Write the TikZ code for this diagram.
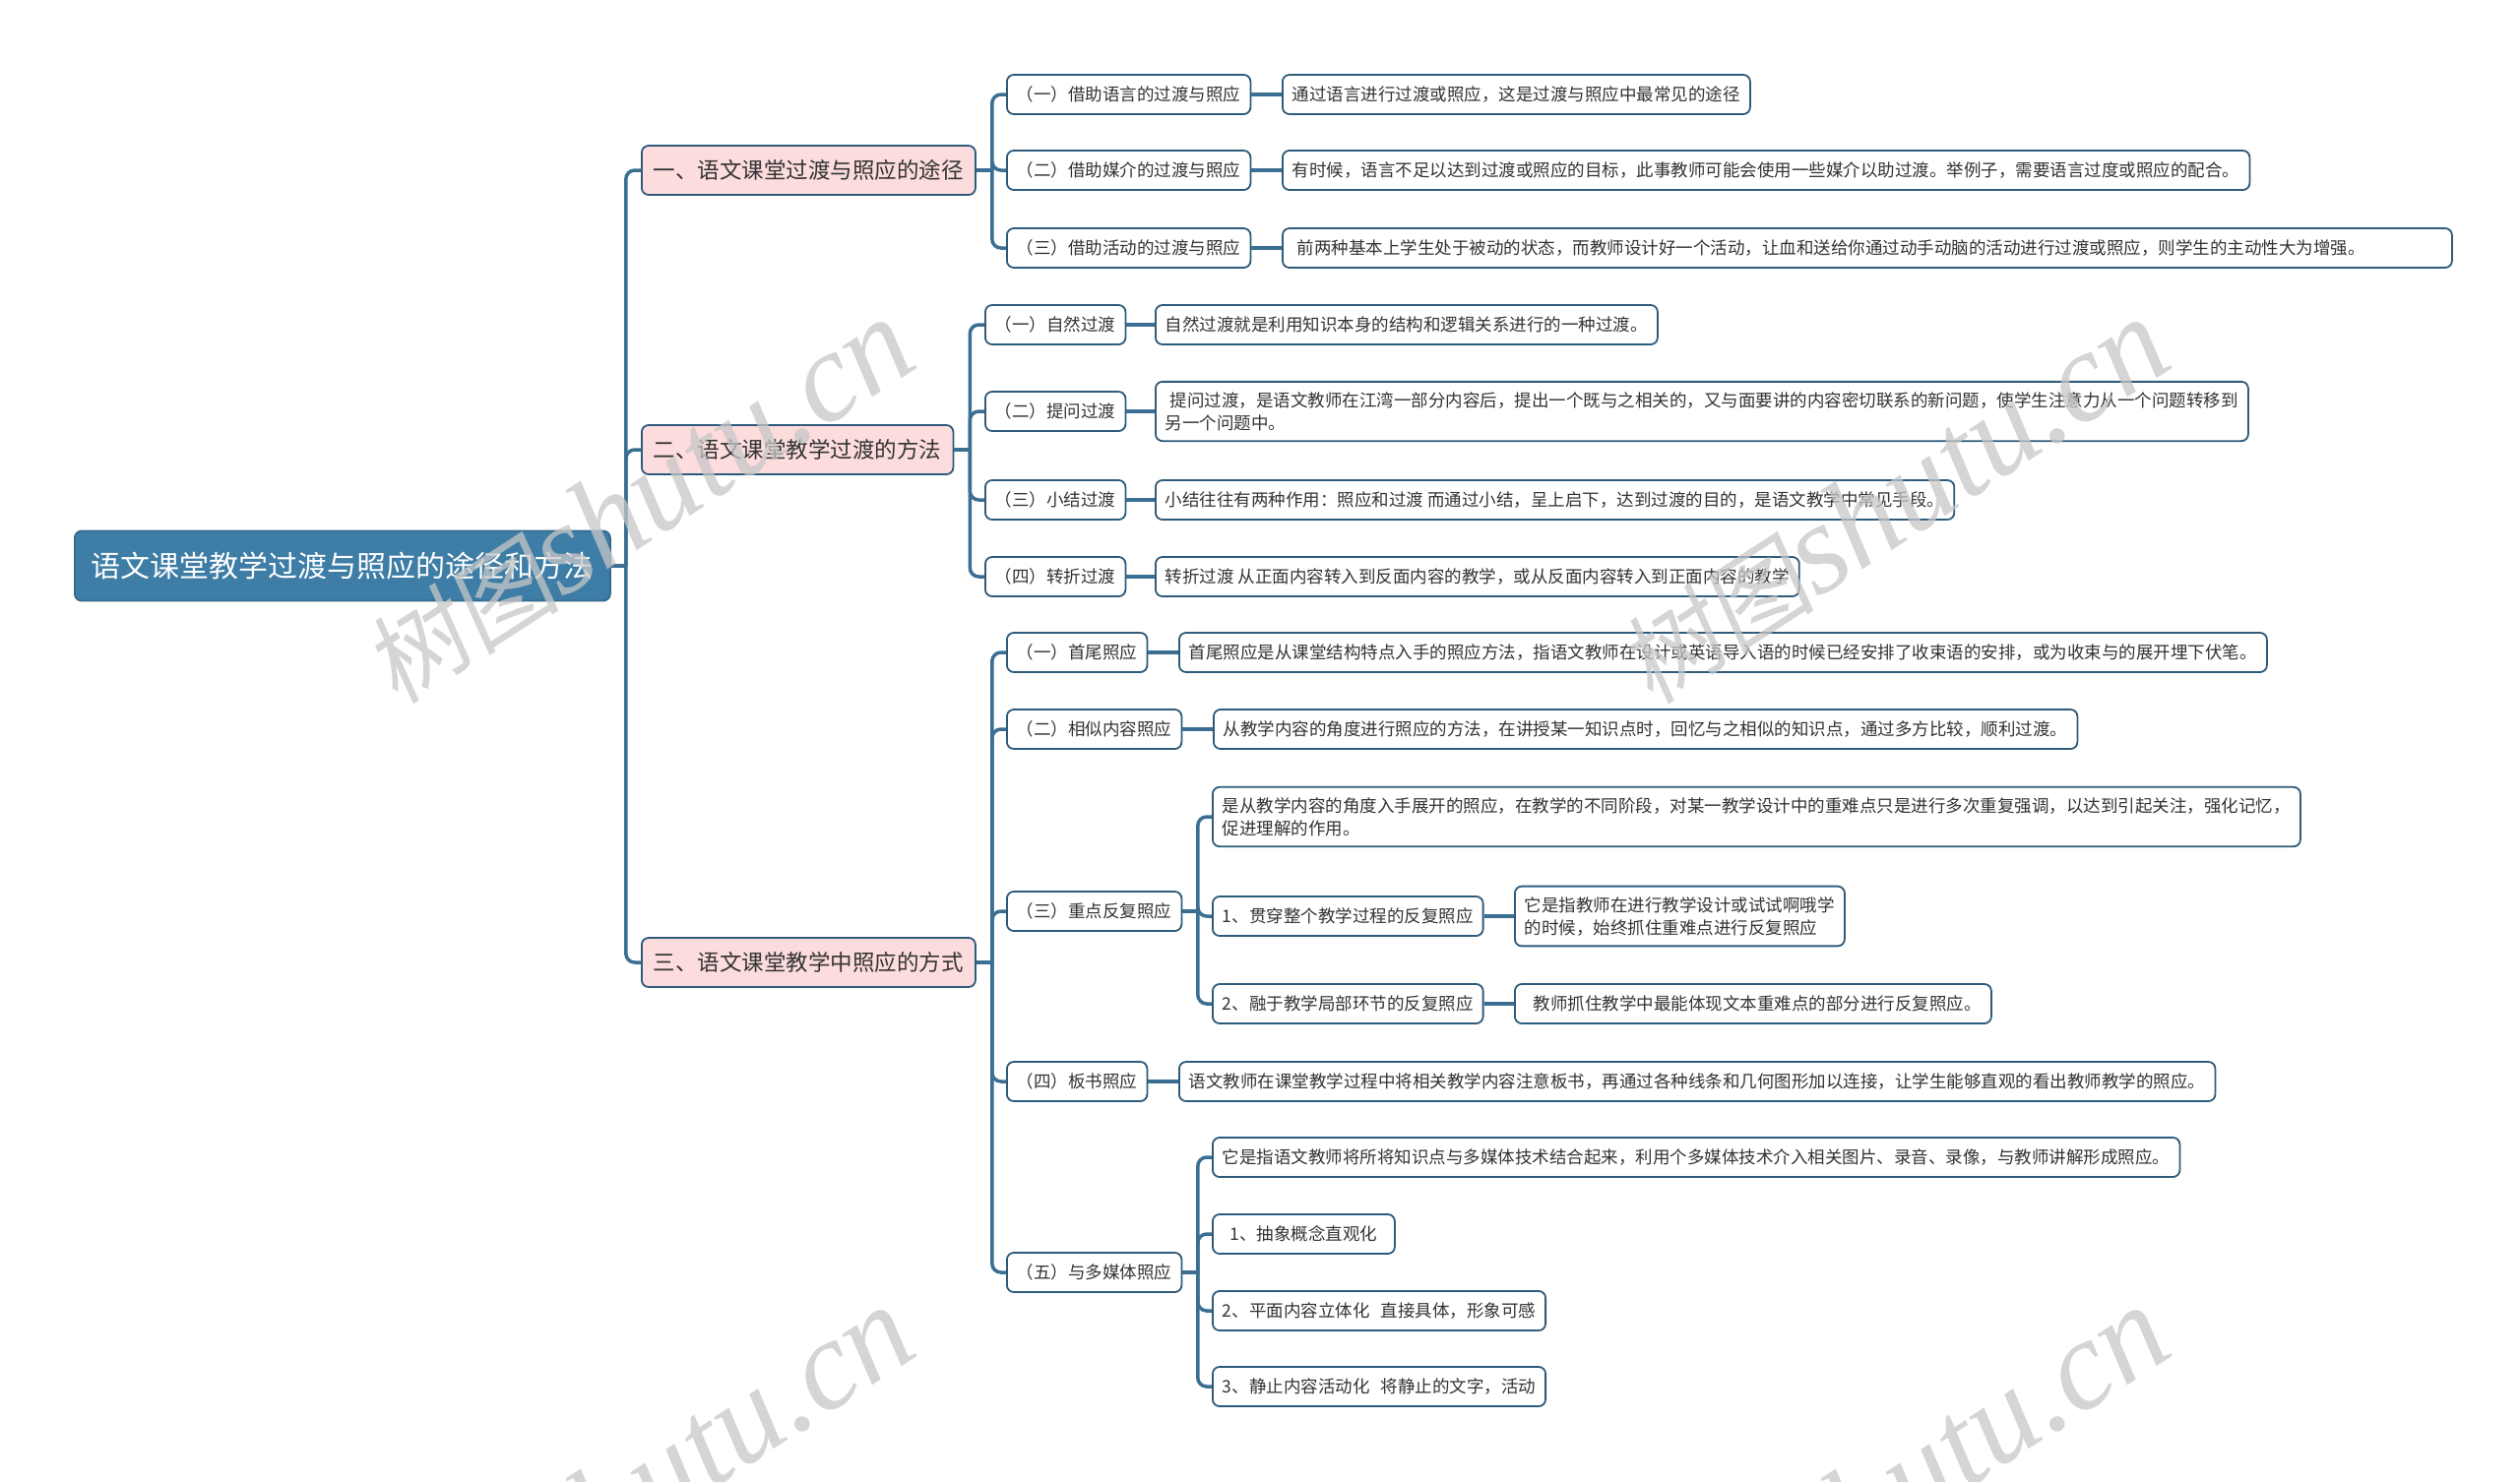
\documentclass[tikz,border=0pt]{standalone}
\usepackage{fontspec}
\setmainfont{Noto Sans CJK SC}
\newfontfamily\wmlatin{Liberation Serif}
\newfontfamily\wmcjk[FakeSlant=0.15]{Noto Sans CJK SC}
\definecolor{linec}{HTML}{3A6F92}
\definecolor{bord}{HTML}{2E5B7B}
\definecolor{rootfill}{HTML}{3E7DA5}
\definecolor{lonefill}{HTML}{FCDCDC}
\definecolor{txt}{HTML}{333333}
\tikzset{
  basebox/.style={draw=bord, line width=1.8pt, rounded corners=7pt, anchor=west, text=txt, inner ysep=0pt, align=left},
  rootbox/.style={basebox, fill=rootfill, draw=rootfill!85!black, text=white, font=\fontsize{30}{36}\selectfont, inner xsep=17pt, minimum height=71pt},
  lonebox/.style={basebox, fill=lonefill, font=\fontsize{22.5}{27}\selectfont, inner xsep=12pt, minimum height=50pt},
  leafbox/.style={basebox, fill=white, font=\fontsize{17.5}{23}\selectfont, inner xsep=10pt, minimum height=40pt},
  tallbox/.style={leafbox, inner ysep=10.5pt},
  conn/.style={draw=linec, line width=3.5pt, rounded corners=9pt},
  wm/.style={text=black!22, opacity=0.75, inner sep=0pt},
}
\begin{document}
\begin{tikzpicture}[x=1pt,y=-1pt]
\useasboundingbox (0,0) rectangle (2560,1505);
\fill[white] (0,0) rectangle (2560,1505);

% nodes
\node[rootbox] (root) at (75,575) {语文课堂教学过渡与照应的途径和方法};
\node[lonebox] (a) at (651,173) {一、语文课堂过渡与照应的途径};
\node[lonebox] (b) at (651,457) {二、语文课堂教学过渡的方法};
\node[lonebox] (c) at (651,978) {三、语文课堂教学中照应的方式};

\node[leafbox] (a1) at (1022,96) {（一）借助语言的过渡与照应};
\node[leafbox] (a2) at (1022,173) {（二）借助媒介的过渡与照应};
\node[leafbox] (a3) at (1022,252) {（三）借助活动的过渡与照应};
\node[leafbox] (a1t) at (1302,96) {通过语言进行过渡或照应，这是过渡与照应中最常见的途径};
\node[leafbox] (a2t) at (1302,173) {有时候，语言不足以达到过渡或照应的目标，此事教师可能会使用一些媒介以助过渡。举例子，需要语言过度或照应的配合。};
\node[leafbox] (a3t) at (1302,252) {\hspace*{5pt}前两种基本上学生处于被动的状态，而教师设计好一个活动，让血和送给你通过动手动脑的活动进行过渡或照应，则学生的主动性大为增强。\hspace*{78pt}};

\node[leafbox] (b1) at (1000,330) {（一）自然过渡};
\node[leafbox] (b2) at (1000,418) {（二）提问过渡};
\node[leafbox] (b3) at (1000,508) {（三）小结过渡};
\node[leafbox] (b4) at (1000,586) {（四）转折过渡};
\node[leafbox] (b1t) at (1173,330) {自然过渡就是利用知识本身的结构和逻辑关系进行的一种过渡。};
\node[tallbox] (b2t) at (1173,418) {\hspace{5pt}提问过渡，是语文教师在江湾一部分内容后，提出一个既与之相关的，又与面要讲的内容密切联系的新问题，使学生注意力从一个问题转移到\\另一个问题中。};
\node[leafbox] (b3t) at (1173,508) {小结往往有两种作用：照应和过渡 而通过小结，呈上启下，达到过渡的目的，是语文教学中常见手段。};
\node[leafbox] (b4t) at (1173,586) {转折过渡 从正面内容转入到反面内容的教学，或从反面内容转入到正面内容的教学};

\node[leafbox] (c1) at (1022,663) {（一）首尾照应};
\node[leafbox] (c2) at (1022,741) {（二）相似内容照应};
\node[leafbox] (c3) at (1022,926) {（三）重点反复照应};
\node[leafbox] (c4) at (1022,1099) {（四）板书照应};
\node[leafbox] (c5) at (1022,1293) {（五）与多媒体照应};
\node[leafbox] (c1t) at (1197,663) {首尾照应是从课堂结构特点入手的照应方法，指语文教师在设计或英语导入语的时候已经安排了收束语的安排，或为收束与的展开埋下伏笔。};
\node[leafbox] (c2t) at (1232,741) {从教学内容的角度进行照应的方法，在讲授某一知识点时，回忆与之相似的知识点，通过多方比较，顺利过渡。};
\node[tallbox] (c3a) at (1231,830) {是从教学内容的角度入手展开的照应，在教学的不同阶段，对某一教学设计中的重难点只是进行多次重复强调，以达到引起关注，强化记忆，\\促进理解的作用。};
\node[leafbox] (c3b) at (1231,931) {1、贯穿整个教学过程的反复照应};
\node[leafbox] (c3c) at (1231,1020) {2、融于教学局部环节的反复照应};
\node[tallbox] (c3bt) at (1538,931) {它是指教师在进行教学设计或试试啊哦学\\的时候，始终抓住重难点进行反复照应};
\node[leafbox] (c3ct) at (1538,1020) {\hspace{9pt}教师抓住教学中最能体现文本重难点的部分进行反复照应。};
\node[leafbox] (c4t) at (1197,1099) {语文教师在课堂教学过程中将相关教学内容注意板书，再通过各种线条和几何图形加以连接，让学生能够直观的看出教师教学的照应。};
\node[leafbox] (c5a) at (1231,1176) {它是指语文教师将所将知识点与多媒体技术结合起来，利用个多媒体技术介入相关图片、录音、录像，与教师讲解形成照应。};
\node[leafbox, minimum width=185pt] (c5b) at (1231,1254) {1、抽象概念直观化};
\node[leafbox] (c5c) at (1231,1332) {2、平面内容立体化\hspace{11pt}直接具体，形象可感};
\node[leafbox] (c5d) at (1231,1409) {3、静止内容活动化\hspace{11pt}将静止的文字，活动};

% connectors
\draw[conn] (root.east) -- ++(15,0) coordinate (jr);
\draw[conn] (jr) |- (a.west);
\draw[conn] (jr) |- (b.west);
\draw[conn] (jr) |- (c.west);

\draw[conn] (a.east) -- ++(16,0) coordinate (ja);
\draw[conn] (ja) |- (a1.west);
\draw[conn] (ja) |- (a2.west);
\draw[conn] (ja) |- (a3.west);
\draw[conn] (a1.east) -- (a1t.west);
\draw[conn] (a2.east) -- (a2t.west);
\draw[conn] (a3.east) -- (a3t.west);

\draw[conn] (b.east) -- ++(16,0) coordinate (jb);
\draw[conn] (jb) |- (b1.west);
\draw[conn] (jb) |- (b2.west);
\draw[conn] (jb) |- (b3.west);
\draw[conn] (jb) |- (b4.west);
\draw[conn] (b1.east) -- (b1t.west);
\draw[conn] (b2.east) -- (b2t.west);
\draw[conn] (b3.east) -- (b3t.west);
\draw[conn] (b4.east) -- (b4t.west);

\draw[conn] (c.east) -- ++(16,0) coordinate (jc);
\draw[conn] (jc) |- (c1.west);
\draw[conn] (jc) |- (c2.west);
\draw[conn] (jc) |- (c3.west);
\draw[conn] (jc) |- (c4.west);
\draw[conn] (jc) |- (c5.west);
\draw[conn] (c1.east) -- (c1t.west);
\draw[conn] (c2.east) -- (c2t.west);
\draw[conn] (c4.east) -- (c4t.west);

\draw[conn] (c3.east) -- ++(15.5,0) coordinate (jc3);
\draw[conn] (jc3) |- (c3a.west);
\draw[conn] (jc3) |- (c3b.west);
\draw[conn] (jc3) |- (c3c.west);
\draw[conn] (c3b.east) -- (c3bt.west);
\draw[conn] (c3c.east) -- (c3ct.west);

\draw[conn] (c5.east) -- ++(15.5,0) coordinate (jc5);
\draw[conn] (jc5) |- (c5a.west);
\draw[conn] (jc5) |- (c5b.west);
\draw[conn] (jc5) |- (c5c.west);
\draw[conn] (jc5) |- (c5d.west);

% watermarks
\begin{scope}
\clip (0,0) rectangle (2560,1505);
\node[wm, rotate=33] (w1) at (648,510) {{\wmcjk\fontsize{100}{110}\selectfont 树图}{\wmlatin\itshape\fontsize{130}{140}\selectfont shutu.cn}};
\node[wm, rotate=33] (w2) at (1923,510) {{\wmcjk\fontsize{100}{110}\selectfont 树图}{\wmlatin\itshape\fontsize{130}{140}\selectfont shutu.cn}};
\node[wm, rotate=33] (w3) at (648,1514) {{\wmcjk\fontsize{100}{110}\selectfont 树图}{\wmlatin\itshape\fontsize{130}{140}\selectfont shutu.cn}};
\node[wm, rotate=33] (w4) at (1923,1514) {{\wmcjk\fontsize{100}{110}\selectfont 树图}{\wmlatin\itshape\fontsize{130}{140}\selectfont shutu.cn}};
\end{scope}
\end{tikzpicture}
\end{document}
